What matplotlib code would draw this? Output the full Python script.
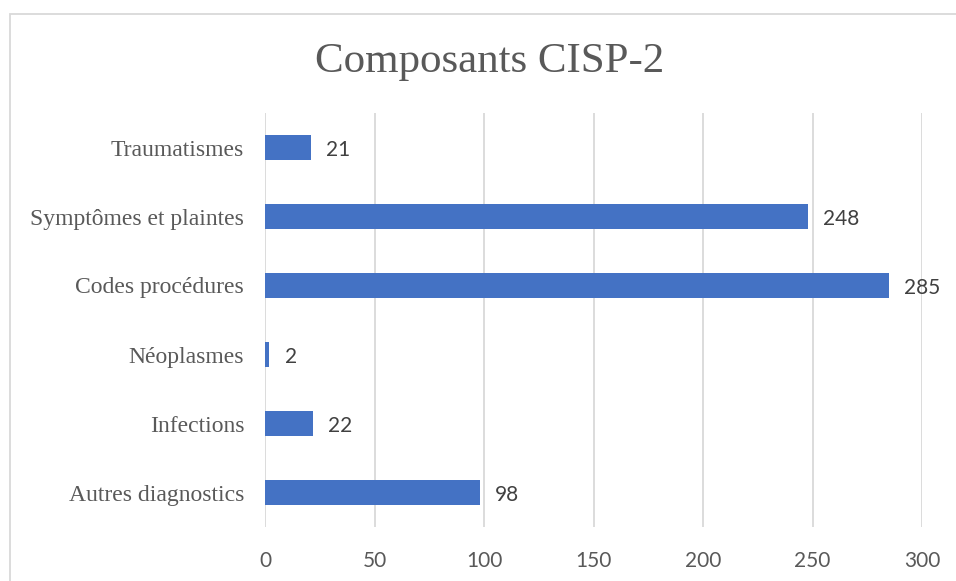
import matplotlib.pyplot as plt
from matplotlib.patches import Rectangle

# data
categories = ["Autres diagnostics", "Infections", "Néoplasmes",
              "Codes procédures", "Symptômes et plaintes", "Traumatismes"]
values = [98, 22, 2, 285, 248, 21]
xticks = [0, 50, 100, 150, 200, 250, 300]

bar_color = "#4472C4"
grid_color = "#D9D9D9"

fig = plt.figure(figsize=(9.56, 5.81), dpi=100)
ax = fig.add_axes([265 / 956, 54 / 581, 657 / 956, 414 / 581])

ax.barh(range(len(categories)), values, height=0.35, color=bar_color, zorder=3)
ax.set_xlim(0, 300)
ax.set_ylim(-0.5, len(categories) - 0.5)
ax.set_xticks(xticks)
ax.set_yticks(range(len(categories)))
ax.set_yticklabels(categories, family="Liberation Serif", fontsize=17, color="#595959")
ax.tick_params(axis="y", length=0, pad=15)
ax.tick_params(axis="x", length=0, pad=17, labelsize=15, labelcolor="#595959")
for lab in ax.get_xticklabels():
    lab.set_family("Lato")

ax.grid(axis="x", color=grid_color, linewidth=1.3, zorder=0)
for s in ax.spines.values():
    s.set_visible(False)

for i, v in enumerate(values):
    ax.annotate(str(v), (v, i), xytext=(11, -2), textcoords="offset points",
                va="center", ha="left", fontsize=15, color="#404040",
                family="Lato")

fig.text(490 / 956, 1 - 62 / 581, "Composants CISP-2", ha="center", va="center",
         family="Liberation Serif", fontsize=31, color="#595959")

# chart frame (cut at right and bottom)
fig.add_artist(Rectangle((9.5 / 956, -0.1), 1.2, 1.1 - 13.5 / 581,
                         transform=fig.transFigure, fill=False,
                         edgecolor=grid_color, linewidth=1.3))

fig.savefig("out.png", dpi=100)
